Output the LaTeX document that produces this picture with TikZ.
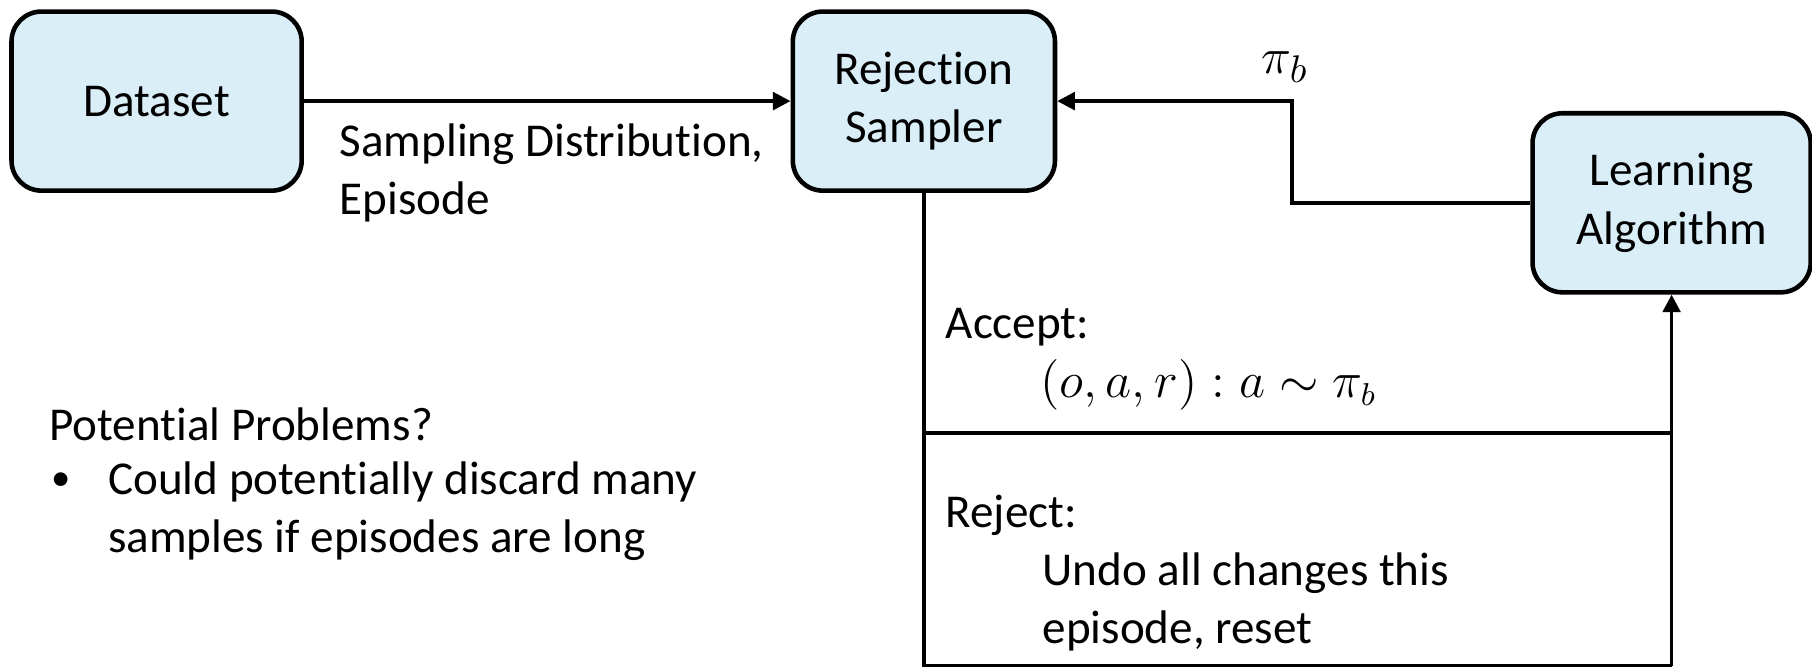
\documentclass[tikz,border=0pt]{standalone}
\usepackage{amsmath}
\usepackage{amssymb}
\usepackage{fontspec}
\setmainfont{Carlito}[Ligatures=NoCommon]
\usepackage{tikz}
\usetikzlibrary{arrows.meta}

\definecolor{boxblue}{RGB}{218,238,248}

\tikzset{
  block/.style={draw, line width=1.3pt, fill=boxblue, rounded corners=0.3cm,
    align=center, minimum height=1.79cm, inner sep=2pt},
  flow/.style={line width=1.05pt},
  txt/.style={anchor=west, inner sep=0pt, align=left}
}

\begin{document}
\begin{tikzpicture}[x=0.01cm, y=-0.01cm,
    font=\fontsize{13.4}{16.6}\selectfont,
    >={Triangle[length=5pt, width=5pt]}]
  \useasboundingbox (0,0) rectangle (1812,667);

  \node[block, minimum width=2.9cm] (dataset) at (156.6,101.1) {Dataset};
  \node[block, minimum width=2.62cm] (sampler) at (923.9,101.1) {Rejection\\Sampler};
  \node[block, minimum width=2.78cm] (learner) at (1671.6,202.8) {Learning\\Algorithm};

  \draw[flow,->] (dataset) -- (sampler);
  \node[txt] (sampling) at (339,173) {Sampling Distribution,\\Episode};

  \coordinate (turn) at (1292,202.8);
  \draw[flow,->] (learner.west) -- (turn) |- (sampler.east);
  \node (policy) at (1285,67) {\fontsize{15}{17}\selectfont$\pi_b$};

  % accept / reject frame under the sampler
  \coordinate (split) at (923.9,433);
  \coordinate (base) at (923.9,665.5);
  \draw[flow] (sampler.south) -- (base) -- (base -| learner.south);
  \draw[flow] (split) -- (split -| learner.south);
  \draw[flow,->] (base -| learner.south) -- (learner.south);

  \node[txt] (accept) at (945,327) {Accept:};
  \node[txt] (accepted) at (1040,385) {$(o,a,r) : a \sim \pi_b$};
  \node[txt] (reject) at (945,515) {Reject:};
  \node[txt] (rejected) at (1042,602) {Undo all changes this\\episode, reset};

  \node[txt] (problems) at (48.5,424) {Potential Problems?};
  \node[txt] (bullet) at (51,482) {\fontsize{11}{12}\selectfont\textbullet};
  \node[txt] (discard) at (107.5,511) {Could potentially discard many\\samples if episodes are long};
\end{tikzpicture}
\end{document}
